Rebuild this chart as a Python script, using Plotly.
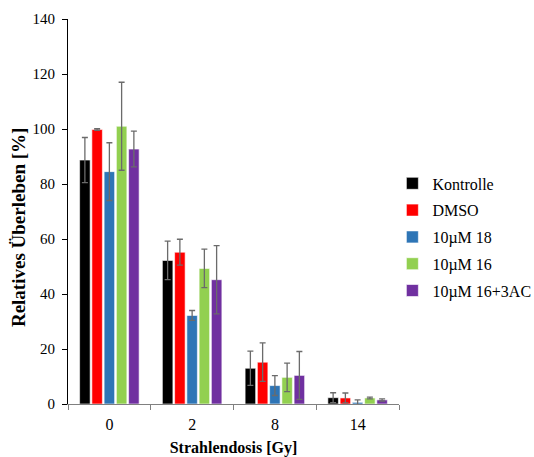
import plotly.graph_objects as go

categories = ["0", "2", "8", "14"]
series_names = ["Kontrolle", "DMSO", "10µM 18", "10µM 16", "10µM 16+3AC"]
kontrolle = [88.7, 52.2, 13.0, 2.3]
dmso = [99.8, 55.2, 15.2, 2.2]
um18 = [84.5, 32.2, 6.7, 0.6]
um16 = [101.0, 49.3, 9.7, 2.2]
um16_3ac = [92.7, 45.2, 10.4, 1.5]
err_kontrolle = [8.2, 7.0, 6.2, 1.8]
err_dmso = [0.3, 4.7, 7.0, 1.8]
err_um18 = [10.5, 1.8, 3.6, 0.9]
err_um16 = [16.0, 7.0, 5.2, 0.3]
err_um16_3ac = [6.5, 12.4, 8.7, 0.4]
y_ticks = [0, 20, 40, 60, 80, 100, 120, 140]

colors = ["#000000", "#FF0000", "#2E75B6", "#92D050", "#7030A0"]
values = [kontrolle, dmso, um18, um16, um16_3ac]
errors = [err_kontrolle, err_dmso, err_um18, err_um16, err_um16_3ac]

font = "'Times New Roman', 'Liberation Serif', 'DejaVu Serif', serif"
fig = go.Figure()
for name, v, e, c in zip(series_names, values, errors, colors):
    fig.add_trace(go.Bar(
        x=categories, y=v, name=name, legendgroup=name,
        marker=dict(color=c, line=dict(color="white", width=0.6)),
        error_y=dict(type="data", array=e, visible=True, color="#6b6b6b",
                     thickness=1.3, width=3),
    ))

fig.update_layout(
    width=534, height=457,
    margin=dict(l=68, r=135, t=19, b=53, autoexpand=False),
    plot_bgcolor="white", paper_bgcolor="white",
    barmode="group", bargap=0.26, bargroupgap=0.14,
    font=dict(family=font, size=15, color="black"),
    legend=dict(x=0.98, xanchor="left", y=0.434, yanchor="middle",
                traceorder="grouped", tracegroupgap=3,
                font=dict(family=font, size=16), itemwidth=30),
    showlegend=True,
    annotations=[dict(text="<b>Relatives Überleben [%]</b>", textangle=-90,
                      xref="paper", yref="paper", x=-0.151, y=0.457,
                      xanchor="center", yanchor="middle", showarrow=False,
                      font=dict(family=font, size=19))],
)
fig.update_yaxes(range=[0, 140], tickvals=y_ticks, showline=True,
                 linecolor="black", linewidth=1, ticks="outside", ticklen=5,
                 tickcolor="black", showgrid=False, zeroline=False,
                 automargin=False, ticklabelstandoff=4,
                 tickfont=dict(family=font, size=15))
fig.update_xaxes(type="category", showline=True, linecolor="#808080",
                 linewidth=1, ticks="outside", tickson="boundaries",
                 ticklen=5, tickcolor="#808080", showgrid=False,
                 automargin=False, ticklabelstandoff=6,
                 title=dict(text="<b>Strahlendosis [Gy]</b>",
                            font=dict(family=font, size=16), standoff=9),
                 tickfont=dict(family=font, size=16))

fig.write_html("out.html")
